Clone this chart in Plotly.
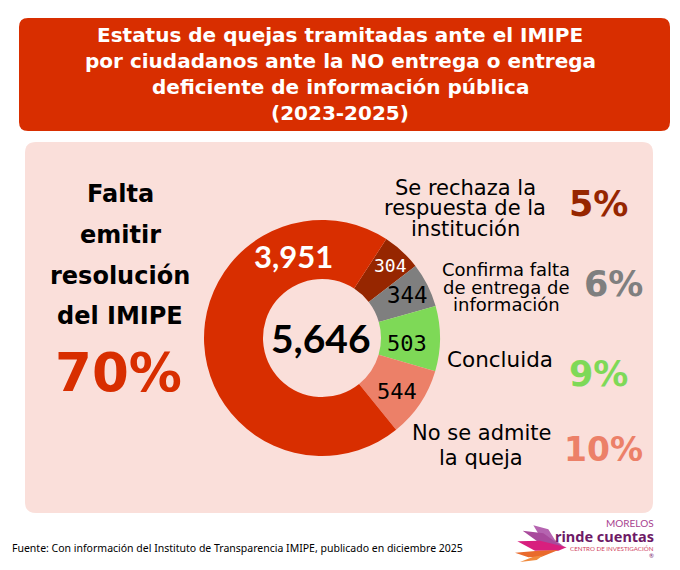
import plotly.graph_objects as go

W, H = 680, 570
categories = ["Se rechaza la respuesta", "Confirma falta", "Concluida", "No se admite", "Falta emitir"]
values = [304, 344, 503, 544, 3951]
colors = ["#962600", "#7F7F7F", "#7ED957", "#EC8068", "#D82E00"]
percents = ["5%", "6%", "9%", "10%", "70%"]
total = 5646

def px(x): return x / W
def py(y): return 1 - y / H

def rrect(x0, y0, x1, y1, r, fill):
    p = (f"M{px(x0+r)},{py(y0)} L{px(x1-r)},{py(y0)} Q{px(x1)},{py(y0)} {px(x1)},{py(y0+r)} "
         f"L{px(x1)},{py(y1-r)} Q{px(x1)},{py(y1)} {px(x1-r)},{py(y1)} L{px(x0+r)},{py(y1)} "
         f"Q{px(x0)},{py(y1)} {px(x0)},{py(y1-r)} L{px(x0)},{py(y0+r)} Q{px(x0)},{py(y0)} {px(x0+r)},{py(y0)} Z")
    return dict(type="path", xref="paper", yref="paper", path=p, fillcolor=fill, line_width=0, layer="below")

def poly(points, fill):
    p = "M" + " L".join(f"{px(500+a/3)},{py(510+b/3)}" for a, b in points) + " Z"
    return dict(type="path", xref="paper", yref="paper", path=p, fillcolor=fill, line_width=0, layer="below")

shapes = [
    rrect(19, 18, 670, 131, 9, "#D82E00"),
    rrect(25, 142, 653, 513, 11, "#FADFDA"),
    poly([(100, 46), (145, 58), (165, 90), (190, 108), (130, 96)], "#B564B0"),
    poly([(68, 62), (130, 70), (170, 98), (195, 112), (120, 100)], "#A84A9C"),
    poly([(52, 94), (120, 92), (200, 112), (175, 122), (105, 122)], "#D81F7E"),
    poly([(45, 128), (115, 122), (175, 120), (125, 140), (85, 142)], "#E96A2C"),
    poly([(60, 156), (100, 140), (130, 136), (110, 150)], "#F08A3C"),
]

MAIN = "DejaVu Sans"
NUM = "DejaVu Sans Mono"
ann = []

def t(x, y, text, size, color="#000000", family=MAIN, anchor="center", bold=False):
    if bold:
        text = f"<b>{text}</b>"
    ann.append(dict(x=px(x), y=py(y), xref="paper", yref="paper", text=text, showarrow=False,
                    font=dict(family=family, size=size, color=color), xanchor=anchor, yanchor="middle"))

for y, line in zip([35, 61, 87, 113], ["Estatus de quejas tramitadas ante el IMIPE",
                                       "por ciudadanos ante la NO entrega o entrega",
                                       "deficiente de información pública", "(2023-2025)"]):
    t(340, y, line, 20, "#FFFFFF", bold=True)

for y, line in zip([194, 235, 276, 316], ["Falta", "emitir", "resolución", "del IMIPE"]):
    t(120, y, line, 24, bold=True)
t(119, 372, percents[4], 53, "#D82E00", bold=True)

t(465, 188, "Se rechaza la", 21)
t(465, 208, "respuesta de la", 21)
t(465, 229, "institución", 21)
t(506, 269, "Confirma falta", 18)
t(506, 287, "de entrega de", 18)
t(506, 304, "información", 18)
t(500, 359, "Concluida", 21.5)
t(481, 433, "No se admite", 21)
t(481, 458, "la queja", 21)

t(598, 204, percents[0], 35, colors[0], bold=True)
t(613, 284, percents[1], 35, colors[1], bold=True)
t(598, 374, percents[2], 35, colors[2], bold=True)
t(603, 449, percents[3], 33, colors[3], bold=True)

t(293, 256, f"{values[4]:,}", 31, "#FFFFFF", "Lato", bold=True)
t(391, 265, f"{values[0]:,}", 18, "#FFFFFF", NUM)
t(407, 295, f"{values[1]:,}", 22.5, "#000000", NUM)
t(407, 343, f"{values[2]:,}", 22, "#000000", NUM)
t(397, 391, f"{values[3]:,}", 22, "#000000", NUM)
t(321, 338, f"{total:,}", 39, "#000000", "Lato", bold=True)

t(10, 548, "Fuente: Con información del Instituto de Transparencia IMIPE, publicado en diciembre 2025",
  10.5, "#000000", "Noto Sans", "left")
t(656, 523, "MORELOS", 10, "#A8428F", "Lato", "right")
t(656, 536, "rinde cuentas", 14.5, "#6E1A66", "Noto Sans", "right", True)
t(656, 548, "CENTRO DE INVESTIGACIÓN", 6.2, "#D0405E", "Lato", "right")
t(656, 555, "®", 6, "#7A1A6E", "Lato", "right")

fig = go.Figure(go.Pie(
    labels=categories, values=values, sort=False, direction="clockwise", rotation=33,
    hole=0.5, marker=dict(colors=colors, line_width=0), textinfo="none", showlegend=False,
    domain=dict(x=[px(204), px(440)], y=[py(456), py(220)]),
))
fig.update_layout(width=W, height=H, margin=dict(l=0, r=0, t=0, b=0), paper_bgcolor="#FFFFFF",
                  shapes=shapes, annotations=ann, showlegend=False)
fig.write_html("out.html", post_script="document.body.style.margin='0';",
               config={"displayModeBar": False})
